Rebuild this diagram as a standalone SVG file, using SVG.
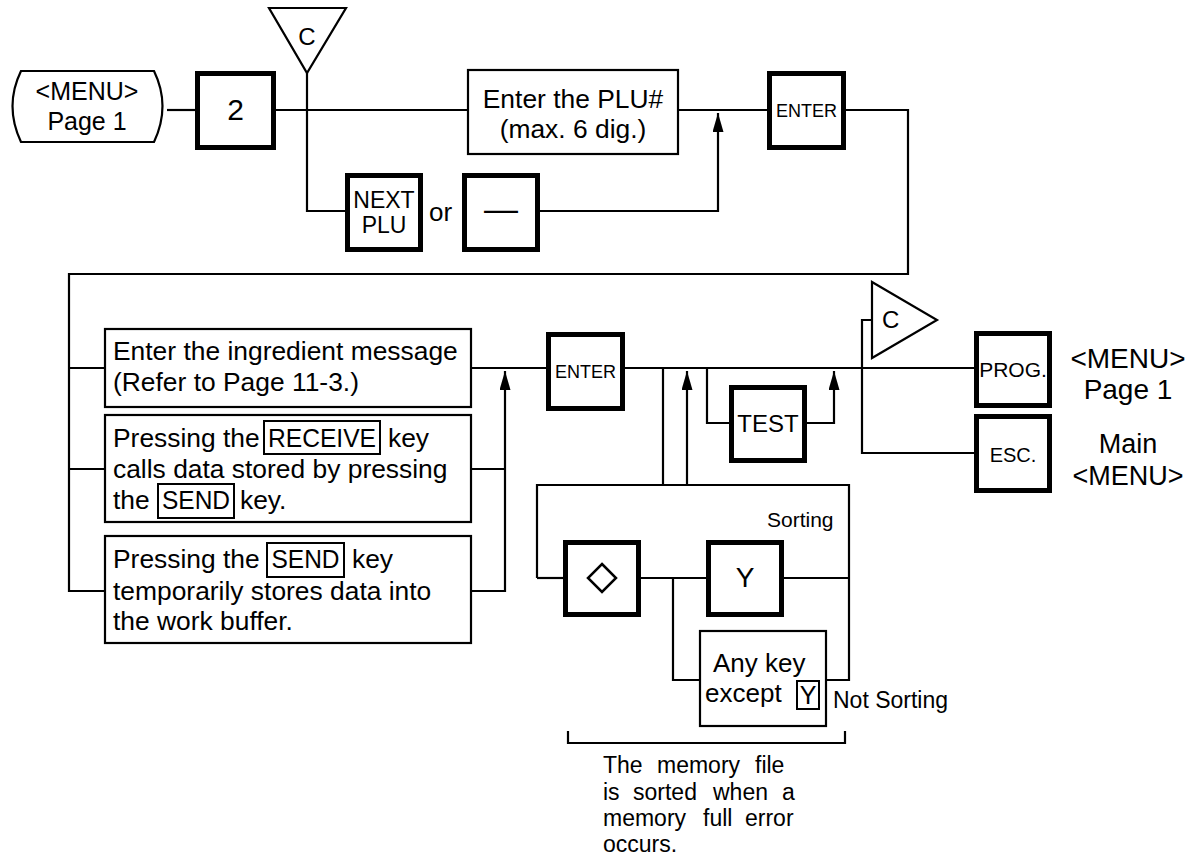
<svg xmlns="http://www.w3.org/2000/svg" width="1199" height="857" viewBox="0 0 1199 857">
<defs>
<style>
text{font-family:"Liberation Sans",Arial,sans-serif;fill:#000}
.ln{fill:none;stroke:#000;stroke-width:2.2}
.key{fill:#fff;stroke:#000;stroke-width:5}
.box{fill:#fff;stroke:#000;stroke-width:2.2}
.ibox{fill:none;stroke:#000;stroke-width:2}
.t26{font-size:26.4px}
.c{text-anchor:middle}
</style>
<marker id="up" viewBox="0 0 11 19" refX="5.5" refY="0" markerWidth="11" markerHeight="19" markerUnits="userSpaceOnUse" orient="0">
<path d="M5.5,0 L11,19 L0,19 Z" fill="#000"/>
</marker>
</defs>

<g id="connectors">
<path class="ln" d="M167,110 H195"/>
<path class="ln" d="M276,110 H468"/>
<path class="ln" d="M307,73 V211 H345"/>
<path class="ln" d="M540,211 H718 V113" marker-end="url(#up)"/>
<path class="ln" d="M678,110 H767"/>
<path class="ln" d="M846,110 H908 V274 H69 V591 H105"/>
<path class="ln" d="M69,368 H105"/>
<path class="ln" d="M69,469 H105"/>
<path class="ln" d="M471,368 H546"/>
<path class="ln" d="M471,469 H505"/>
<path class="ln" d="M471,591 H505 V371" marker-end="url(#up)"/>
<path class="ln" d="M625,368 H974"/>
<path class="ln" d="M663,368 V485"/>
<path class="ln" d="M687,485 V371" marker-end="url(#up)"/>
<path class="ln" d="M707,368 V423 H729"/>
<path class="ln" d="M807,423 H834 V371" marker-end="url(#up)"/>
<path class="ln" d="M537,578 V485 H849 V680 H826"/>
<path class="ln" d="M537,578 H563"/>
<path class="ln" d="M641,578 H706"/>
<path class="ln" d="M784,578 H849"/>
<path class="ln" d="M673,578 V680 H700"/>
<path class="ln" d="M872,320 H862 V453 H974"/>
<path class="ln" d="M568,731 V743 H845 V731"/>
</g>

<g id="menu-start">
<path class="box" d="M21,71 H154 Q171,106 154,142 H21 Q4,106 21,71 Z"/>
<text class="c" x="87" y="100" font-size="25">&lt;MENU&gt;</text>
<text class="c" x="87" y="130" font-size="25">Page 1</text>
</g>

<g id="key-2">
<rect class="key" x="197.5" y="73.5" width="76" height="74"/>
<text class="c" x="235.5" y="120" font-size="30">2</text>
</g>

<g id="clear-top">
<path class="box" d="M269,8 H346 L307,73 Z"/>
<text class="c" x="307" y="45" font-size="24">C</text>
</g>

<g id="key-next-plu">
<rect class="key" x="347.5" y="175.5" width="73" height="74"/>
<text class="c" x="384" y="208" font-size="23">NEXT</text>
<text class="c" x="384" y="233" font-size="23">PLU</text>
</g>

<g id="or-label">
<text x="429" y="221" font-size="26">or</text>
</g>

<g id="key-minus">
<rect class="key" x="464.5" y="175.5" width="73" height="74"/>
<text class="c" x="501" y="220" font-size="34">—</text>
</g>

<g id="plu-entry">
<rect class="box" x="468" y="70" width="210" height="84"/>
<text class="c t26" x="573" y="108">Enter the PLU#</text>
<text class="c t26" x="573" y="138">(max. 6 dig.)</text>
</g>

<g id="key-enter-1">
<rect class="key" x="769.5" y="73.5" width="74" height="74"/>
<text class="c" x="806.5" y="117" font-size="18">ENTER</text>
</g>

<g id="ingredient-entry">
<rect class="box" x="105" y="329" width="366" height="78"/>
<text class="t26" x="113" y="360">Enter the ingredient message</text>
<text class="t26" x="113" y="391">(Refer to Page 11-3.)</text>
</g>

<g id="receive-note">
<rect class="box" x="105" y="415" width="366" height="107"/>
<text class="t26" x="113" y="447">Pressing the</text>
<rect class="ibox" x="264" y="421" width="116" height="33"/>
<text class="t26" x="322" y="447" text-anchor="middle" textLength="108" lengthAdjust="spacingAndGlyphs">RECEIVE</text>
<text class="t26" x="388" y="447">key</text>
<text class="t26" x="113" y="478">calls data stored by pressing</text>
<text class="t26" x="113" y="509">the</text>
<rect class="ibox" x="158" y="484" width="76" height="34"/>
<text class="t26" x="196" y="509" text-anchor="middle" textLength="68" lengthAdjust="spacingAndGlyphs">SEND</text>
<text class="t26" x="240" y="509">key.</text>
</g>

<g id="send-note">
<rect class="box" x="105" y="536" width="366" height="107"/>
<text class="t26" x="113" y="568">Pressing the</text>
<rect class="ibox" x="267" y="543" width="77" height="34"/>
<text class="t26" x="305.5" y="568" text-anchor="middle" textLength="68" lengthAdjust="spacingAndGlyphs">SEND</text>
<text class="t26" x="352" y="568">key</text>
<text class="t26" x="113" y="600">temporarily stores data into</text>
<text class="t26" x="113" y="630">the work buffer.</text>
</g>

<g id="key-enter-2">
<rect class="key" x="548.5" y="334.5" width="74" height="74"/>
<text class="c" x="585.5" y="378" font-size="18">ENTER</text>
</g>

<g id="key-test">
<rect class="key" x="731.5" y="387.5" width="73" height="73"/>
<text class="c" x="768" y="432" font-size="24">TEST</text>
</g>

<g id="sorting-label">
<text x="767" y="527" font-size="21">Sorting</text>
</g>

<g id="key-diamond">
<rect class="key" x="565.5" y="542.5" width="73" height="72"/>
<path d="M602,564 L616,578 L602,592 L588,578 Z" fill="none" stroke="#000" stroke-width="2.5"/>
</g>

<g id="key-y">
<rect class="key" x="708.5" y="542.5" width="73" height="72"/>
<text class="c" x="745" y="587" font-size="28">Y</text>
</g>

<g id="any-key">
<rect class="box" x="700" y="631" width="126" height="95"/>
<text x="713" y="672" font-size="26">Any key</text>
<text x="705" y="702" font-size="26">except</text>
<rect class="ibox" x="797" y="681" width="22" height="28"/>
<text class="c" x="808" y="704" font-size="25">Y</text>
</g>

<g id="not-sorting-label">
<text x="833" y="708" font-size="23">Not Sorting</text>
</g>

<g id="clear-right">
<path class="box" d="M872,282 L937,320 L872,358 Z"/>
<text x="882" y="328" font-size="24">C</text>
</g>

<g id="key-prog">
<rect class="key" x="976.5" y="333.5" width="73" height="72"/>
<text class="c" x="1013" y="377" font-size="21">PROG.</text>
</g>

<g id="key-esc">
<rect class="key" x="976.5" y="416.5" width="73" height="74"/>
<text class="c" x="1013" y="462" font-size="20">ESC.</text>
</g>

<g id="menu-page1-label">
<text class="c" x="1128" y="368" font-size="28">&lt;MENU&gt;</text>
<text class="c" x="1128" y="399" font-size="28">Page 1</text>
</g>

<g id="main-menu-label">
<text class="c" x="1128" y="453" font-size="27">Main</text>
<text class="c" x="1128" y="485" font-size="27">&lt;MENU&gt;</text>
</g>

<g id="memory-note" font-size="23">
<text x="603" y="773">The</text>
<text x="657" y="773">memory</text>
<text x="755" y="773">file</text>
<text x="603" y="800">is</text>
<text x="633" y="800">sorted</text>
<text x="713" y="800">when</text>
<text x="782" y="800">a</text>
<text x="603" y="826">memory</text>
<text x="703" y="826">full</text>
<text x="745" y="826">error</text>
<text x="603" y="852">occurs.</text>
</g>
</svg>
